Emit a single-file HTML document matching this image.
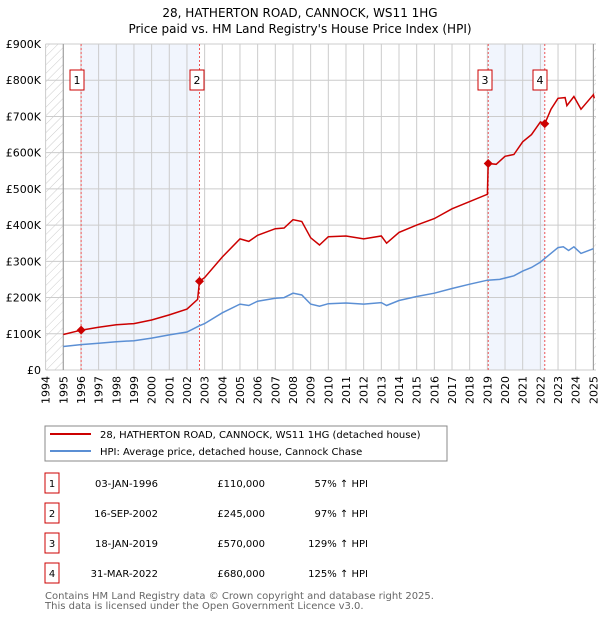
<!DOCTYPE html>
<html><head><meta charset="utf-8"><style>
body{margin:0;background:#fff;font-family:"Liberation Sans","DejaVu Sans",sans-serif}
svg text{font-family:"DejaVu Sans","Liberation Sans",sans-serif}
</style></head><body>
<svg id="c" width="600" height="620" viewBox="0 0 600 620" xmlns="http://www.w3.org/2000/svg">
<defs><pattern id="h" width="6" height="6" patternUnits="userSpaceOnUse" patternTransform="rotate(45)"><line x1="0" y1="0" x2="0" y2="6" stroke="#ccc" stroke-width="1"/></pattern></defs>
<text x="300" y="17" text-anchor="middle" font-size="12">28, HATHERTON ROAD, CANNOCK, WS11 1HG</text>
<text x="300" y="33" text-anchor="middle" font-size="12">Price paid vs. HM Land Registry's House Price Index (HPI)</text>
<g id="plot"></g>
<rect x="45" y="426" width="402" height="35" fill="#fff" stroke="#888"/>
<line x1="50" y1="434" x2="91" y2="434" stroke="#cc0000" stroke-width="2"/>
<text x="100" y="438" font-size="10">28, HATHERTON ROAD, CANNOCK, WS11 1HG (detached house)</text>
<line x1="50" y1="451" x2="91" y2="451" stroke="#5b8fd4" stroke-width="2"/>
<text x="100" y="455" font-size="10">HPI: Average price, detached house, Cannock Chase</text>
<g id="tbl" font-size="10"></g>
<text x="45" y="599" font-size="10" fill="#666">Contains HM Land Registry data © Crown copyright and database right 2025.</text>
<text x="45" y="609" font-size="10" fill="#666">This data is licensed under the Open Government Licence v3.0.</text>
</svg>
<script>
const hpiX=[1995,1996,1997,1998,1999,2000,2001,2002,2002.7,2003,2004,2005,2005.5,2006,2007,2007.5,2008,2008.5,2009,2009.5,2010,2011,2012,2013,2013.3,2014,2015,2016,2017,2018,2019,2019.7,2020.5,2021,2021.5,2022,2022.5,2023,2023.3,2023.6,2023.9,2024.3,2025];
const hpiY=[65,70,74,78,81,88,97,105,122,128,158,182,178,190,198,200,212,207,182,176,183,185,182,186,178,192,203,212,225,237,248,250,260,273,283,298,318,338,340,330,340,322,335];
const redX=[1995,1996,1997,1998,1999,2000,2001,2002,2002.6,2002.71,2003,2004,2005,2005.5,2006,2007,2007.5,2008,2008.5,2009,2009.5,2010,2011,2012,2013,2013.3,2014,2015,2016,2017,2018,2019,2019.05,2019.5,2020,2020.5,2021,2021.5,2022,2022.25,2022.6,2023,2023.4,2023.5,2023.9,2024.3,2025,2025.05];
const redY=[98,110,118,125,128,138,152,168,195,245,255,312,362,355,372,390,392,415,410,365,345,368,370,362,370,350,380,400,418,445,465,485,570,568,590,595,630,650,685,680,720,750,752,730,755,720,760,750];
const saleX=[1996.01,2002.71,2019.05,2022.25];
const saleY=[110,245,570,680];
const saleLabels=["1","2","3","4"];
const saleDates=["03-JAN-1996","16-SEP-2002","18-JAN-2019","31-MAR-2022"];
const salePrices=["£110,000","£245,000","£570,000","£680,000"];
const salePct=["57% ↑ HPI","97% ↑ HPI","129% ↑ HPI","125% ↑ HPI"];
const yTicks=[0,100,200,300,400,500,600,700,800,900];
const yTickLabels=["£0","£100K","£200K","£300K","£400K","£500K","£600K","£700K","£800K","£900K"];
const NS="http://www.w3.org/2000/svg";
const X0=45.6,X1=596,Y0=370,Y1=44;
const xs=y=>X0+(y-1994)*17.67;
const ys=v=>Y0-(v/900)*(Y0-Y1);
const g=document.getElementById('plot');
function mk(t,a,p){const e=document.createElementNS(NS,t);for(const k in a)e.setAttribute(k,a[k]);(p||g).appendChild(e);return e;}
let e;
e=mk('rect',{x:X0,y:Y1,width:X1-X0,height:Y0-Y1,fill:'#fff'});


e=mk('rect',{x:X0,y:Y1,width:xs(1995)-X0,height:Y0-Y1,fill:'url(#h)'});


e=mk('rect',{x:xs(2025),y:Y1,width:X1-xs(2025),height:Y0-Y1,fill:'url(#h)'});


[[0,1],[2,3]].forEach((p,i)=>{e=mk('rect',{x:xs(saleX[p[0]]),y:Y1,width:xs(saleX[p[1]])-xs(saleX[p[0]]),height:Y0-Y1,fill:'#f1f5fd'});

});
for(let yr=1994;yr<=2025;yr++){e=mk('line',{x1:xs(yr),x2:xs(yr),y1:Y1,y2:Y0,stroke:'#ccc','stroke-width':1});


e=mk('text',{x:0,y:0,'font-size':11,'text-anchor':'end',transform:`translate(${xs(yr)+4},376) rotate(-90)`});e.textContent=yr;

}
yTicks.forEach((v,i)=>{e=mk('line',{x1:X0,x2:X1,y1:ys(v),y2:ys(v),stroke:'#ccc','stroke-width':1});


e=mk('text',{x:41,y:ys(v)+4,'font-size':11,'text-anchor':'end'});e.textContent=yTickLabels[i];

});
e=mk('line',{x1:xs(1995),x2:xs(1995),y1:Y1,y2:Y0,stroke:'#999'});


e=mk('line',{x1:xs(2025),x2:xs(2025),y1:Y1,y2:Y0,stroke:'#999'});


saleX.forEach((sx,i)=>{e=mk('line',{x1:xs(sx),x2:xs(sx),y1:Y1,y2:Y0,stroke:'#e55','stroke-width':1,'stroke-dasharray':'2,2'});

});
const pts=(X,Y)=>X.map((x,i)=>xs(x).toFixed(1)+','+ys(Y[i]).toFixed(1)).join(' ');
e=mk('polyline',{points:pts(hpiX,hpiY),fill:'none',stroke:'#5b8fd4','stroke-width':1.5});


e=mk('polyline',{points:pts(redX,redY),fill:'none',stroke:'#cc0000','stroke-width':1.5});


saleX.forEach((sx,i)=>{const cx=xs(sx),cy=ys(saleY[i]);
e=mk('path',{d:`M${cx-4.5},${cy} L${cx},${cy-4.5} L${cx+4.5},${cy} L${cx},${cy+4.5}Z`,fill:'#cc0000'});


const bx=cx-(i%2==0?(i==0?-2:12):12);
const lx=[77,197,485,540][i];
e=mk('rect',{x:lx-7,y:70,width:14,height:20,fill:'#fff',stroke:'#cc0000'});


e=mk('text',{x:lx,y:84,'font-size':11,'text-anchor':'middle'});e.textContent=saleLabels[i];

});
const t=document.getElementById('tbl');
saleLabels.forEach((l,i)=>{const y=483+i*30;
e=mk('rect',{x:45,y:y-10,width:14,height:20,fill:'#fff',stroke:'#cc0000'},t);


e=mk('text',{x:52,y:y+4,'text-anchor':'middle'},t);e.textContent=l;


e=mk('text',{x:158,y:y+4,'text-anchor':'end'},t);e.textContent=saleDates[i];


e=mk('text',{x:265,y:y+4,'text-anchor':'end'},t);e.textContent=salePrices[i];


e=mk('text',{x:368,y:y+4,'text-anchor':'end'},t);e.textContent=salePct[i];

});
</script>
</body></html>
